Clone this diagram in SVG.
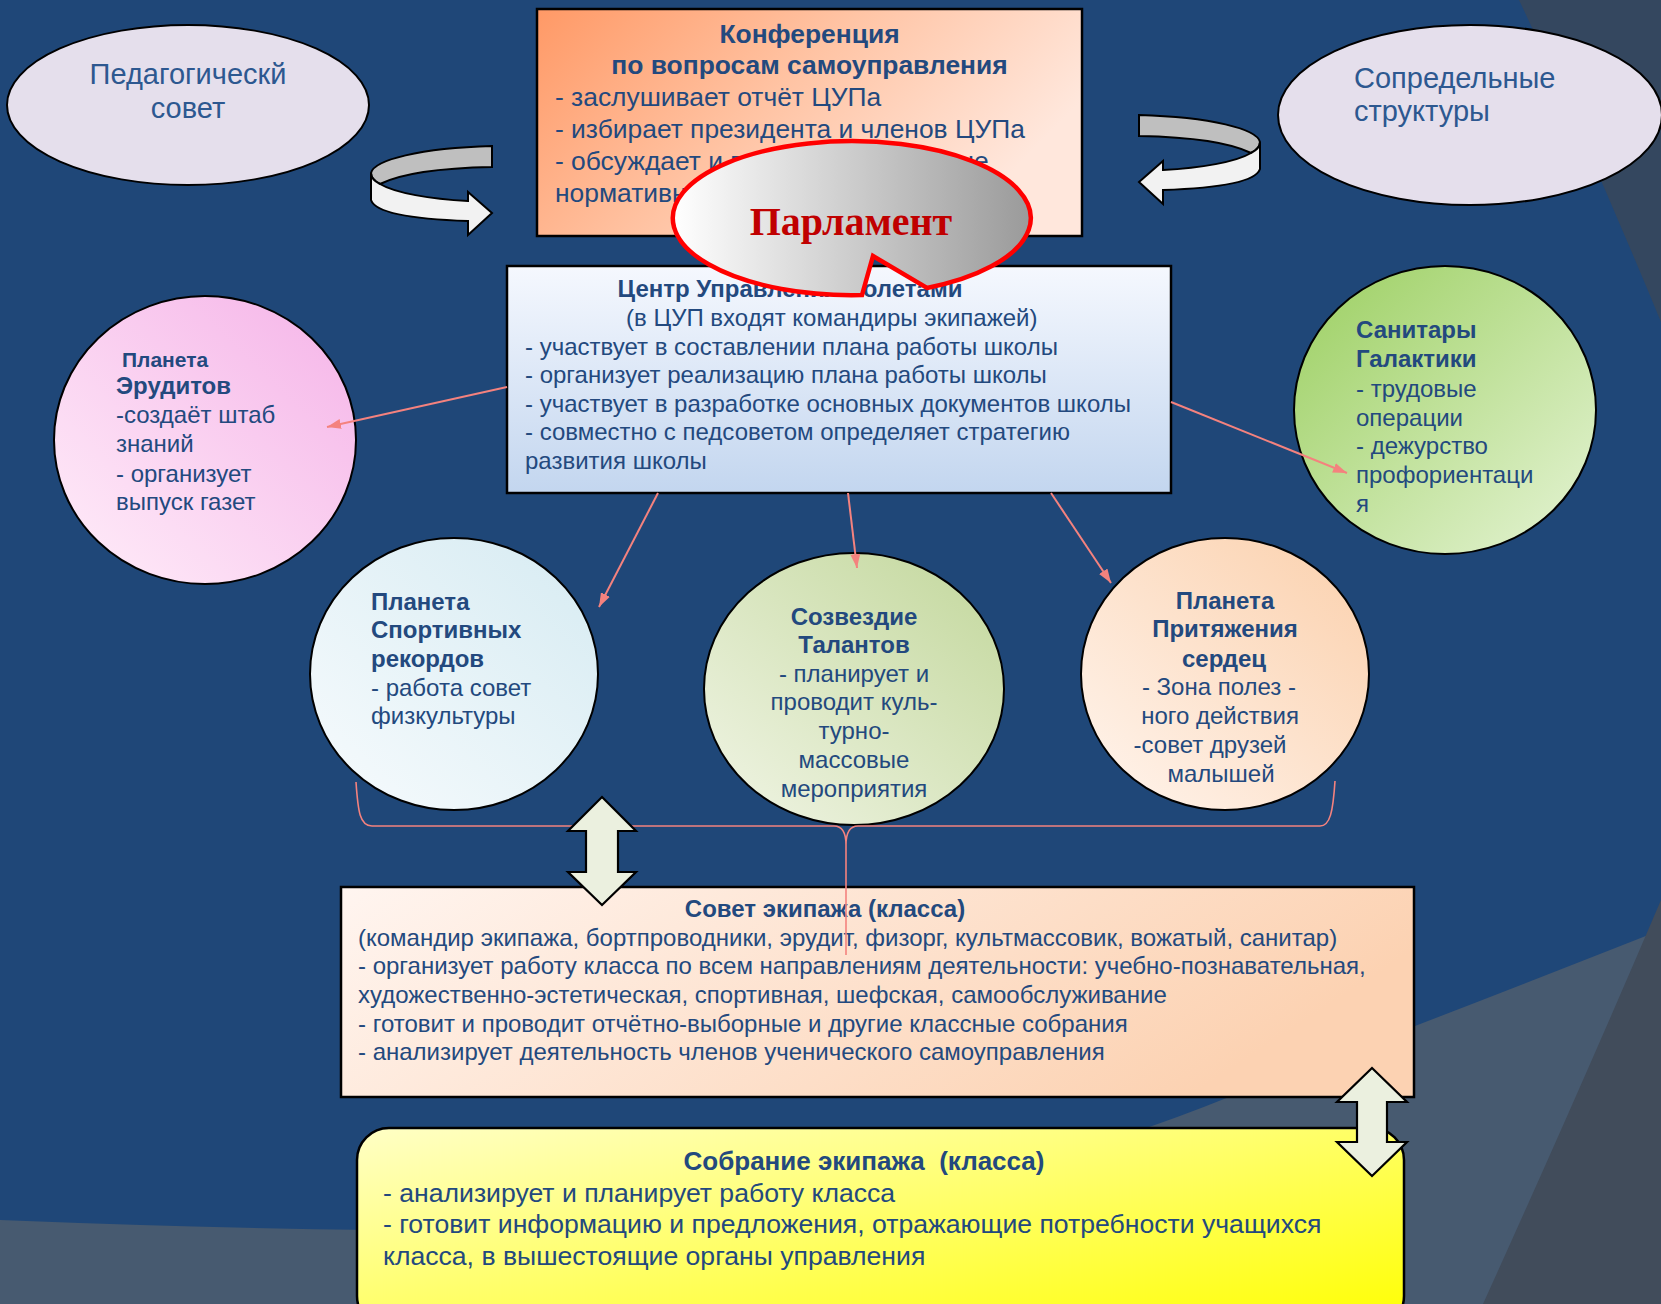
<svg xmlns="http://www.w3.org/2000/svg" width="1661" height="1304" viewBox="0 0 1661 1304">
<defs>
<style>
.t{font-family:"Liberation Sans",Arial,sans-serif;fill:#23497E;font-size:24px}
.b{font-weight:bold}
.c{text-anchor:middle}
.f26{font-size:26.4px}
.f28{font-family:"Liberation Sans",Arial,sans-serif;font-size:29px;fill:#2D5890}
.box{stroke:#000;stroke-width:2.5}
.pl{stroke:#000;stroke-width:2}
.conn{stroke:#F4827E;stroke-width:2;fill:none}
.dbl{fill:#EBF0DF;stroke:#000;stroke-width:2.2;stroke-linejoin:miter}
</style>
<marker id="ah" viewBox="0 0 14 10" refX="14" refY="5" markerWidth="14" markerHeight="10" markerUnits="userSpaceOnUse" orient="auto"><path d="M0,0 L14,5 L0,10 Z" fill="#F4827E"/></marker>
<linearGradient id="gConf" x1="0" y1="0" x2="1" y2="0.4"><stop offset="0" stop-color="#FF9966"/><stop offset="0.5" stop-color="#FFC3A3"/><stop offset="1" stop-color="#FFE7DC"/></linearGradient>
<linearGradient id="gCup" x1="0" y1="0" x2="0" y2="1"><stop offset="0" stop-color="#F5F8FE"/><stop offset="1" stop-color="#C3D6EF"/></linearGradient>
<linearGradient id="gParl" x1="0" y1="0" x2="1" y2="0"><stop offset="0" stop-color="#FFFFFF"/><stop offset="1" stop-color="#9A9A9A"/></linearGradient>
<linearGradient id="gErud" x1="1" y1="0" x2="0" y2="1"><stop offset="0" stop-color="#F5B3E8"/><stop offset="1" stop-color="#FFEEF9"/></linearGradient>
<linearGradient id="gSan" x1="0" y1="0" x2="1" y2="1"><stop offset="0" stop-color="#9BCF60"/><stop offset="1" stop-color="#E6F4D6"/></linearGradient>
<linearGradient id="gSport" x1="1" y1="0" x2="0" y2="1"><stop offset="0" stop-color="#D6EBF2"/><stop offset="1" stop-color="#F7FBFD"/></linearGradient>
<linearGradient id="gTal" x1="1" y1="0" x2="0" y2="1"><stop offset="0" stop-color="#C2D79B"/><stop offset="1" stop-color="#F1F5E6"/></linearGradient>
<linearGradient id="gHeart" x1="1" y1="0" x2="0" y2="1"><stop offset="0" stop-color="#FBD0AC"/><stop offset="1" stop-color="#FFF5EE"/></linearGradient>
<linearGradient id="gSov" x1="0" y1="0" x2="1" y2="0.3"><stop offset="0" stop-color="#FFF5F0"/><stop offset="1" stop-color="#FCD2B2"/></linearGradient>
<linearGradient id="gSob" x1="0" y1="0" x2="1" y2="1"><stop offset="0" stop-color="#FFFFC6"/><stop offset="1" stop-color="#FFFF00"/></linearGradient>
</defs>

<g id="background">
<rect width="1661" height="1304" fill="#475A70"/>
<path d="M0,0 H1661 V930 Q1420,1025 1229,1097 Q1000,1190 700,1228 Q400,1236 0,1220 Z" fill="#1F4778"/>
<path d="M1519,0 Q1590,150 1661,322 V0 Z" fill="#34475F"/>
<path d="M1661,900 Q1580,1090 1483,1304 H1661 Z" fill="#414C5B"/>
</g>

<g id="ped-sovet">
<ellipse cx="188" cy="105" rx="181" ry="80" fill="#E5DFEC" class="pl"/>
<text class="f28" x="188" y="84" text-anchor="middle">Педагогическй</text>
<text class="f28" x="188" y="118" text-anchor="middle">совет</text>
</g>

<g id="sopredel">
<ellipse cx="1470" cy="115" rx="192" ry="90" fill="#E5DFEC" class="pl"/>
<text class="f28" x="1354" y="88">Сопредельные</text>
<text class="f28" x="1354" y="121">структуры</text>
</g>

<g id="conference">
<rect x="537" y="9" width="545" height="227" fill="url(#gConf)" class="box"/>
<text class="t b c f26" x="809.5" y="43">Конференция</text>
<text class="t b c f26" x="809.5" y="74">по вопросам самоуправления</text>
<text class="t f26" x="555" y="106">- заслушивает отчёт ЦУПа</text>
<text class="t f26" x="555" y="138">- избирает президента и членов ЦУПа</text>
<text class="t f26" x="555" y="170">- обсуждает и принимает основные</text>
<text class="t f26" x="555" y="202">нормативные документы</text>
</g>

<g id="cup">
<rect x="507" y="266" width="664" height="227" fill="url(#gCup)" class="box"/>
<text class="t b c" x="790" y="297">Центр Управления Полетами</text>
<text class="t" x="626" y="326">(в ЦУП входят командиры экипажей)</text>
<text class="t" x="525" y="355">- участвует в составлении плана работы школы</text>
<text class="t" x="525" y="383">- организует реализацию плана работы школы</text>
<text class="t" x="525" y="412">- участвует в разработке основных документов школы</text>
<text class="t" x="525" y="440">- совместно с педсоветом определяет стратегию</text>
<text class="t" x="525" y="469">развития школы</text>
</g>

<g id="parlament">
<path d="M927,288 A179,77 0 1 0 862,295 L873,256 Z" fill="url(#gParl)" stroke="#FF0000" stroke-width="4.5" stroke-linejoin="miter"/>
<text x="851" y="235" text-anchor="middle" style="font-family:'Liberation Serif','Times New Roman',serif;font-weight:bold;font-size:40px;fill:#C00000">Парламент</text>
</g>

<g id="erudity">
<ellipse cx="205" cy="440" rx="151" ry="144" fill="url(#gErud)" class="pl"/>
<text class="t b" x="122" y="367" style="font-size:21px">Планета</text>
<text class="t b" x="116" y="394">Эрудитов</text>
<text class="t" x="116" y="423">-создаёт штаб</text>
<text class="t" x="116" y="452">знаний</text>
<text class="t" x="116" y="482">- организует</text>
<text class="t" x="116" y="510">выпуск газет</text>
</g>

<g id="sanitary">
<ellipse cx="1445" cy="410" rx="151" ry="144" fill="url(#gSan)" class="pl"/>
<text class="t b" x="1356" y="338">Санитары</text>
<text class="t b" x="1356" y="367">Галактики</text>
<text class="t" x="1356" y="397">- трудовые</text>
<text class="t" x="1356" y="426">операции</text>
<text class="t" x="1356" y="454">- дежурство</text>
<text class="t" x="1356" y="483">профориентаци</text>
<text class="t" x="1356" y="512">я</text>
</g>

<g id="sport">
<ellipse cx="454" cy="674" rx="144" ry="136" fill="url(#gSport)" class="pl"/>
<text class="t b" x="371" y="610">Планета</text>
<text class="t b" x="371" y="638">Спортивных</text>
<text class="t b" x="371" y="667">рекордов</text>
<text class="t" x="371" y="696">- работа совет</text>
<text class="t" x="371" y="724">физкультуры</text>
</g>

<g id="talents">
<ellipse cx="854" cy="689" rx="150" ry="136" fill="url(#gTal)" class="pl"/>
<text class="t b c" x="854" y="625">Созвездие</text>
<text class="t b c" x="854" y="653">Талантов</text>
<text class="t c" x="854" y="682">- планирует и</text>
<text class="t c" x="854" y="710">проводит куль-</text>
<text class="t c" x="854" y="739">турно-</text>
<text class="t c" x="854" y="768">массовые</text>
<text class="t c" x="854" y="797">мероприятия</text>
</g>

<g id="hearts">
<ellipse cx="1225" cy="674" rx="144" ry="136" fill="url(#gHeart)" class="pl"/>
<text class="t b c" x="1225" y="609">Планета</text>
<text class="t b c" x="1225" y="637">Притяжения</text>
<text class="t b c" x="1224" y="667">сердец</text>
<text class="t c" x="1219" y="695">- Зона полез -</text>
<text class="t c" x="1220" y="724">ного действия</text>
<text class="t c" x="1210" y="753">-совет друзей</text>
<text class="t c" x="1221" y="782">малышей</text>
</g>

<g id="sovet">
<rect x="341" y="887" width="1073" height="210" fill="url(#gSov)" class="box"/>
<text class="t b c" x="825" y="917">Совет экипажа (класса)</text>
<text class="t" x="358" y="946">(командир экипажа, бортпроводники, эрудит, физорг, культмассовик, вожатый, санитар)</text>
<text class="t" x="358" y="974">- организует работу класса по всем направлениям деятельности: учебно-познавательная,</text>
<text class="t" x="358" y="1003">художественно-эстетическая, спортивная, шефская, самообслуживание</text>
<text class="t" x="358" y="1032">- готовит и проводит отчётно-выборные и другие классные собрания</text>
<text class="t" x="358" y="1060">- анализирует деятельность членов ученического самоуправления</text>
</g>

<g id="sobranie">
<rect x="357" y="1128" width="1047" height="200" rx="32" ry="32" fill="url(#gSob)" class="box"/>
<text class="t b c" x="864" y="1170" style="font-size:26px;white-space:pre" xml:space="preserve">Собрание экипажа  (класса)</text>
<text class="t" x="383" y="1202" style="font-size:26.6px">- анализирует и планирует работу класса</text>
<text class="t" x="383" y="1233" style="font-size:26.6px">- готовит информацию и предложения, отражающие потребности учащихся</text>
<text class="t" x="383" y="1265" style="font-size:26.6px">класса, в вышестоящие органы управления</text>
</g>

<g id="connectors">
<line class="conn" x1="507" y1="387" x2="327" y2="427" marker-end="url(#ah)"/>
<line class="conn" x1="1171" y1="402" x2="1347" y2="473" marker-end="url(#ah)"/>
<line class="conn" x1="658" y1="493" x2="599" y2="607" marker-end="url(#ah)"/>
<line class="conn" x1="848" y1="493" x2="857" y2="568" marker-end="url(#ah)"/>
<line class="conn" x1="1051" y1="493" x2="1111" y2="583" marker-end="url(#ah)"/>
<path class="conn" style="stroke-width:1.6" d="M356,782 C358,812 360,826 372,826 L834,826 C842,826 846,832 846,845 L846,955 M846,845 C846,832 850,826 858,826 L1320,826 C1330,826 1333,812 1335,781"/>
<path id="curl-left-back" d="M492,146 L492,167 C440,168 400,174 380,184 C374,181 371,177 371,173 C374,160 420,148 492,146 Z" fill="#BFBFBF" stroke="#000" stroke-width="2"/>
<path id="curl-left-front" d="M371,173 L371,200 C375,212 405,219 468,221 L468,235 L492,213 L468,192 L468,201 C430,199 395,193 380,184 C374,181 371,177 371,173 Z" fill="#F2F2F2" stroke="#000" stroke-width="2"/>
<g transform="translate(1631,-31) scale(-1,1)">
<path d="M492,146 L492,167 C440,168 400,174 380,184 C374,181 371,177 371,173 C374,160 420,148 492,146 Z" fill="#BFBFBF" stroke="#000" stroke-width="2"/>
<path d="M371,173 L371,200 C375,212 405,219 468,221 L468,235 L492,213 L468,192 L468,201 C430,199 395,193 380,184 C374,181 371,177 371,173 Z" fill="#F2F2F2" stroke="#000" stroke-width="2"/>
</g>
<polygon class="dbl" points="602,797 636,831 618,831 618,872 636,872 602,905 568,872 586,872 586,831 568,831"/>
<polygon class="dbl" points="1372,1068 1407,1102 1387,1102 1387,1142 1407,1142 1372,1176 1337,1142 1357,1142 1357,1102 1337,1102"/>
</g>
</svg>
